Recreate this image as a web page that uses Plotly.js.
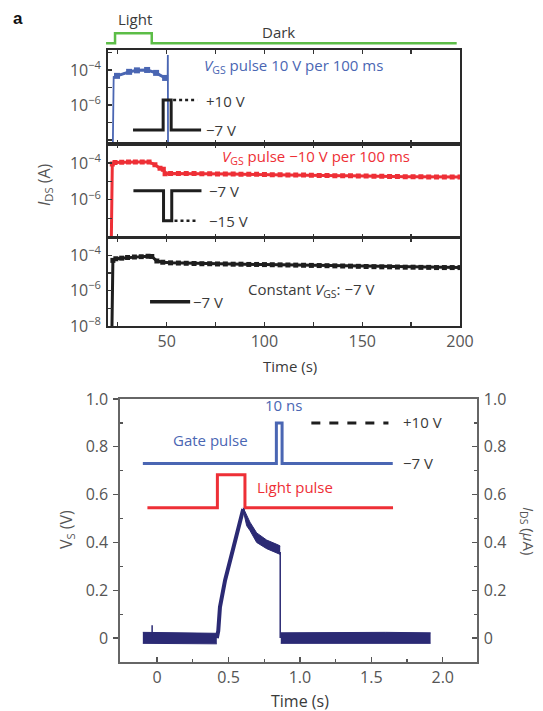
<!DOCTYPE html>
<html><head><meta charset="utf-8">
<script src="https://cdn.plot.ly/plotly-3.0.1.min.js"></script>
<style>html,body{margin:0;padding:0;background:#fff}#chart{width:543px;height:711px}</style>
</head><body><div id="chart"></div>
<script>
// ---------- data ----------
// Top: light/dark illumination schedule (time s, on=1/off=0)
const lightT = [19.0, 23.6, 23.6, 42.4, 42.4, 198.5];
const lightOn = [0, 0, 1, 1, 0, 0];

// Panel 1: VGS pulse +10 V (blue)
const blueT = [22.4, 22.9, 24.6, 30.8, 34.8, 40.0, 44.6, 49.2, 50.5, 50.6, 50.7];
const blueI = [1e-9, 4.0e-5, 4.6e-5, 7.8e-5, 9.5e-5, 1.0e-4, 6.8e-5, 3.5e-5, 3.4e-5, 7.2e-4, 1e-9];
const blueMarkT = [24.6, 30.8, 34.8, 40.0, 44.6, 49.2];
const blueMarkI = [4.6e-5, 7.8e-5, 9.5e-5, 1.0e-4, 6.8e-5, 3.5e-5];

// Panel 2: VGS pulse -10 V (red)
const redT = [21.6, 22.2, 23.6, 27, 30.5, 34, 37.5, 41, 44, 46.6, 48.3, 49.2,
  52, 56, 60, 64, 68, 72, 76, 80, 84, 88, 92, 96, 100, 104, 108, 112, 116, 120,
  124, 128, 132, 136, 140, 144, 148, 152, 156, 160, 164, 168, 172, 176, 180, 184, 188, 192, 196, 200];
const redI = [1e-9, 8.9e-5, 1.05e-4, 1.1e-4, 1.12e-4, 1.12e-4, 1.12e-4, 1.12e-4, 8.0e-5, 5.1e-5, 4.5e-5, 2.6e-5,
  2.7e-5, 2.7e-5, 2.65e-5, 2.65e-5, 2.6e-5, 2.6e-5, 2.55e-5, 2.5e-5, 2.5e-5, 2.45e-5, 2.4e-5, 2.4e-5, 2.35e-5, 2.3e-5, 2.3e-5, 2.25e-5, 2.2e-5, 2.2e-5,
  2.15e-5, 2.1e-5, 2.1e-5, 2.05e-5, 2.0e-5, 2.0e-5, 1.95e-5, 1.95e-5, 1.9e-5, 1.9e-5, 1.85e-5, 1.85e-5, 1.8e-5, 1.8e-5, 1.8e-5, 1.75e-5, 1.75e-5, 1.7e-5, 1.7e-5, 1.7e-5];

// Panel 3: constant VGS -7 V (black)
const blkT = [21.9, 22.5, 24, 27, 30, 33.5, 37, 40.5, 42.4, 45, 48,
  52, 56, 60, 64, 68, 72, 76, 80, 84, 88, 92, 96, 100, 104, 108, 112, 116, 120,
  124, 128, 132, 136, 140, 144, 148, 152, 156, 160, 164, 168, 172, 176, 180, 184, 188, 192, 196, 200];
const blkI = [1e-9, 5.1e-5, 6.3e-5, 6.8e-5, 7.4e-5, 7.9e-5, 8.3e-5, 8.7e-5, 8.5e-5, 4.7e-5, 4.0e-5,
  3.7e-5, 3.6e-5, 3.5e-5, 3.4e-5, 3.3e-5, 3.3e-5, 3.2e-5, 3.2e-5, 3.1e-5, 3.1e-5, 3.0e-5, 3.0e-5, 2.95e-5, 2.9e-5, 2.85e-5, 2.8e-5, 2.75e-5, 2.7e-5,
  2.65e-5, 2.6e-5, 2.55e-5, 2.5e-5, 2.45e-5, 2.4e-5, 2.35e-5, 2.3e-5, 2.25e-5, 2.2e-5, 2.2e-5, 2.15e-5, 2.1e-5, 2.1e-5, 2.05e-5, 2.05e-5, 2.0e-5, 2.0e-5, 2.0e-5, 2.0e-5];

// Inset gate-voltage schematics (drawn in each panel's coordinates)
const pulse1T = [32.8, 48.2, 48.2, 52.3, 52.3, 67.6];
const pulse1I = [3.7e-8, 3.7e-8, 1.9e-6, 1.9e-6, 3.7e-8, 3.7e-8];
const pulse1DotT = [53.3, 65.6];
const pulse1DotI = [1.9e-6, 1.9e-6];
const pulse2T = [33.0, 48.4, 48.4, 52.6, 52.6, 67.8];
const pulse2I = [3.1e-6, 3.1e-6, 7.2e-8, 7.2e-8, 3.1e-6, 3.1e-6];
const pulse2DotT = [54.0, 65.0];
const pulse2DotI = [7.2e-8, 7.2e-8];
const pulse3T = [41.5, 62.0];
const pulse3I = [2.35e-7, 2.35e-7];

// Top tick labels
const decadeVals12 = [1e-6, 1e-4];
const decadeText12 = ['10<sup>−6</sup>', '10<sup>−4</sup>'];
const decadeMinor12 = [1e-8, 1e-7, 1e-5, 1e-3];
const decadeVals3 = [1e-8, 1e-6, 1e-4];
const decadeText3 = ['10<sup>−8</sup>', '10<sup>−6</sup>', '10<sup>−4</sup>'];
const decadeMinor3 = [1e-7, 1e-5, 1e-3];
const timeTickVals = [50, 100, 150, 200];
const timeTickText = ['50', '100', '150', '200'];
const timeMinorVals = [25, 75, 125, 175];

// Bottom plot: gate pulse, light pulse, source voltage / current
const gateT = [-0.10, 0.835, 0.835, 0.875, 0.875, 1.65];
const gateV = [0.73, 0.73, 0.90, 0.90, 0.73, 0.73];
const lightPT = [-0.068, 0.422, 0.422, 0.615, 0.615, 1.652];
const lightPV = [0.545, 0.545, 0.683, 0.683, 0.545, 0.545];
const dashT = [1.08, 1.62];
const dashV = [0.90, 0.90];
const base1T = [-0.10, 0.10, 0.25, 0.418];
const base1Lo = [-0.022, -0.022, -0.025, -0.024];
const base1Hi = [0.024, 0.022, 0.020, 0.020];
const riseT = [0.418, 0.428, 0.44, 0.476, 0.535, 0.58, 0.603];
const riseV = [0.0, 0.03, 0.13, 0.242, 0.38, 0.48, 0.54];
const decayT = [0.603, 0.627, 0.65, 0.697, 0.767, 0.846, 0.862];
const decayLo = [0.535, 0.47, 0.45, 0.40, 0.374, 0.354, 0.35];
const decayHi = [0.545, 0.512, 0.485, 0.44, 0.41, 0.39, 0.385];
const dropT = [0.862, 0.862];
const dropV = [0.36, 0.0];
const base2T = [0.866, 1.2, 1.6, 1.915];
const base2Lo = [-0.022, -0.022, -0.022, -0.022];
const base2Hi = [0.022, 0.024, 0.024, 0.022];
const spikeT = [-0.035, -0.035];
const spikeV = [0.0, 0.054];
const vTickVals = [0, 0.2, 0.4, 0.6, 0.8, 1.0];
const vTickText = ['0', '0.2', '0.4', '0.6', '0.8', '1.0'];
const vMinorVals = [0.1, 0.3, 0.5, 0.7, 0.9];
const tTickVals = [0, 0.5, 1.0, 1.5, 2.0];
const tTickText = ['0', '0.5', '1.0', '1.5', '2.0'];
const tMinorVals = [0.25, 0.75, 1.25, 1.75];

// ---------- helpers (layout only) ----------
const W = 543, H = 711;
const px = x => x / W;
const py = y => 1 - y / H;

const FONT = 'Open Sans, Noto Sans, sans-serif';
const BLUE = '#4a66b3', RED = '#ee2f36', GREEN = '#5cbd47', NAVY = '#2b2a74', DARK = '#3a3a3a', TICK = '#555555';

const traces = [];
// green light schedule
traces.push({x: lightT, y: lightOn, xaxis: 'x4', yaxis: 'y4', mode: 'lines', line: {color: GREEN, width: 2.5}, hoverinfo: 'skip'});
// panel 1
traces.push({x: blueT, y: blueI, xaxis: 'x', yaxis: 'y', mode: 'lines', line: {color: BLUE, width: 1.8}});
traces.push({x: blueMarkT, y: blueMarkI, xaxis: 'x', yaxis: 'y', mode: 'lines+markers', line: {color: BLUE, width: 3}, marker: {symbol: 'square', size: 6, color: BLUE}});
traces.push({x: pulse1T, y: pulse1I, xaxis: 'x', yaxis: 'y', mode: 'lines', line: {color: '#1e1e1e', width: 3}});
traces.push({x: pulse1DotT, y: pulse1DotI, xaxis: 'x', yaxis: 'y', mode: 'lines', line: {color: '#1e1e1e', width: 2.5, dash: 'dot'}});
// panel 2
traces.push({x: redT, y: redI, xaxis: 'x2', yaxis: 'y2', mode: 'lines+markers', line: {color: RED, width: 3}, marker: {symbol: 'square', size: 5, color: RED}});
traces.push({x: pulse2T, y: pulse2I, xaxis: 'x2', yaxis: 'y2', mode: 'lines', line: {color: '#1e1e1e', width: 3}});
traces.push({x: pulse2DotT, y: pulse2DotI, xaxis: 'x2', yaxis: 'y2', mode: 'lines', line: {color: '#1e1e1e', width: 2.5, dash: 'dot'}});
// panel 3
traces.push({x: blkT, y: blkI, xaxis: 'x3', yaxis: 'y3', mode: 'lines+markers', line: {color: '#1e1e1e', width: 3}, marker: {symbol: 'square', size: 5, color: '#1e1e1e'}});
traces.push({x: pulse3T, y: pulse3I, xaxis: 'x3', yaxis: 'y3', mode: 'lines', line: {color: '#1e1e1e', width: 3.5}});
// bottom plot
traces.push({x: gateT, y: gateV, xaxis: 'x5', yaxis: 'y5', mode: 'lines', line: {color: BLUE, width: 3}});
traces.push({x: lightPT, y: lightPV, xaxis: 'x5', yaxis: 'y5', mode: 'lines', line: {color: RED, width: 3}});
traces.push({x: dashT, y: dashV, xaxis: 'x5', yaxis: 'y5', mode: 'lines', line: {color: '#1e1e1e', width: 3, dash: 'dash'}});
traces.push({x: base1T, y: base1Lo, xaxis: 'x5', yaxis: 'y5', mode: 'lines', line: {color: NAVY, width: 1}});
traces.push({x: base1T, y: base1Hi, xaxis: 'x5', yaxis: 'y5', mode: 'lines', line: {color: NAVY, width: 1}, fill: 'tonexty', fillcolor: NAVY});
traces.push({x: riseT, y: riseV, xaxis: 'x5', yaxis: 'y5', mode: 'lines', line: {color: NAVY, width: 4}});
traces.push({x: decayT, y: decayLo, xaxis: 'x5', yaxis: 'y5', mode: 'lines', line: {color: NAVY, width: 1}});
traces.push({x: decayT, y: decayHi, xaxis: 'x5', yaxis: 'y5', mode: 'lines', line: {color: NAVY, width: 1}, fill: 'tonexty', fillcolor: NAVY});
traces.push({x: dropT, y: dropV, xaxis: 'x5', yaxis: 'y5', mode: 'lines', line: {color: NAVY, width: 1.5}});
traces.push({x: base2T, y: base2Lo, xaxis: 'x5', yaxis: 'y5', mode: 'lines', line: {color: NAVY, width: 1}});
traces.push({x: base2T, y: base2Hi, xaxis: 'x5', yaxis: 'y5', mode: 'lines', line: {color: NAVY, width: 1}, fill: 'tonexty', fillcolor: NAVY});
traces.push({x: spikeT, y: spikeV, xaxis: 'x5', yaxis: 'y5', mode: 'lines', line: {color: NAVY, width: 1.5}});
// invisible trace to activate right axis
traces.push({x: [0], y: [0], xaxis: 'x5', yaxis: 'y6', mode: 'markers', marker: {opacity: 0}, hoverinfo: 'skip'});

const topX = (dom, showLabels) => ({
  domain: dom, range: [20, 200], tickmode: 'array', tickvals: timeTickVals, ticktext: timeTickText,
  ticks: 'inside', ticklen: 4, tickwidth: 1.3, tickcolor: '#333', mirror: 'ticks',
  minor: {tickmode: 'array', tickvals: timeMinorVals, ticks: 'inside', ticklen: 4, tickwidth: 1.3, tickcolor: '#333', showgrid: false},
  showline: true, linecolor: '#2a2a2a', linewidth: 1.8, showgrid: false, zeroline: false,
  showticklabels: showLabels, tickfont: {family: FONT, size: 16, color: TICK}
});
const topY = (dom, rng, vals, txt, minorVals, anchor) => ({
  domain: dom, type: 'log', range: rng, tickmode: 'array', tickvals: vals, ticktext: txt,
  ticks: 'inside', ticklen: 4, tickwidth: 1.3, tickcolor: '#333', mirror: true, anchor: anchor,
  minor: {tickmode: 'array', tickvals: minorVals, ticks: 'inside', ticklen: 4, tickwidth: 1.3, tickcolor: '#333', showgrid: false},
  showline: true, linecolor: '#2a2a2a', linewidth: 1.8, showgrid: false, zeroline: false,
  tickfont: {family: FONT, size: 16, color: TICK}, ticklabelstandoff: 2
});
const xdomTop = [px(108), px(460)];

const layout = {
  width: W, height: H, margin: {l: 0, r: 0, t: 0, b: 0},
  paper_bgcolor: '#fff', plot_bgcolor: 'rgba(0,0,0,0)', showlegend: false,
  font: {family: FONT, color: DARK},
  xaxis: Object.assign(topX(xdomTop, false), {anchor: 'y'}),
  yaxis: topY([py(144), py(50)], [-8.23, -2.86], decadeVals12, decadeText12, decadeMinor12, 'x'),
  xaxis2: Object.assign(topX(xdomTop, false), {anchor: 'y2'}),
  yaxis2: topY([py(237.5), py(144)], [-8.05, -2.97], decadeVals12, decadeText12, decadeMinor12, 'x2'),
  xaxis3: Object.assign(topX(xdomTop, true), {anchor: 'y3'}),
  yaxis3: topY([py(326), py(237.5)], [-8.0, -3.0], decadeVals3, decadeText3, decadeMinor3, 'x3'),
  xaxis4: {domain: [px(104), px(460)], range: [17.95, 200.2], visible: false, anchor: 'y4'},
  yaxis4: {domain: [py(47), py(29)], range: [-0.37, 1.43], visible: false, anchor: 'x4'},
  xaxis5: {
    domain: [px(120), px(477)], range: [-0.26, 2.24], anchor: 'y5',
    tickmode: 'array', tickvals: tTickVals, ticktext: tTickText,
    ticks: 'inside', ticklen: 5, tickwidth: 1.3, tickcolor: '#555',
    minor: {tickmode: 'array', tickvals: tMinorVals, ticks: 'inside', ticklen: 3, tickcolor: '#555', showgrid: false},
    showline: true, linecolor: '#666', linewidth: 1.6, mirror: true,
    showgrid: false, zeroline: false, tickfont: {family: FONT, size: 16, color: TICK}
  },
  yaxis5: {
    domain: [py(662), py(399)], range: [-0.1, 1.0], anchor: 'x5',
    tickmode: 'array', tickvals: vTickVals, ticktext: vTickText,
    ticks: 'outside', ticklen: 5, tickwidth: 1.3, tickcolor: '#555',
    minor: {tickmode: 'array', tickvals: vMinorVals, ticks: 'inside', ticklen: 3, tickcolor: '#555', showgrid: false},
    showline: true, linecolor: '#666', linewidth: 1.6,
    showgrid: false, zeroline: false, tickfont: {family: FONT, size: 16, color: TICK}, ticklabelstandoff: 2
  },
  yaxis6: {
    overlaying: 'y5', side: 'right', anchor: 'x5', range: [-0.1, 1.0],
    tickmode: 'array', tickvals: vTickVals, ticktext: vTickText,
    ticks: 'inside', ticklen: 5, tickwidth: 1.3, tickcolor: '#555',
    minor: {tickmode: 'array', tickvals: vMinorVals, ticks: 'inside', ticklen: 3, tickcolor: '#555', showgrid: false},
    showline: true, linecolor: '#666', linewidth: 1.6,
    showgrid: false, zeroline: false, tickfont: {family: FONT, size: 16, color: TICK}, ticklabelstandoff: 2
  },
  annotations: []
};

function ann(text, x, y, opts) {
  layout.annotations.push(Object.assign({
    text: text, xref: 'paper', yref: 'paper', x: px(x), y: py(y),
    xanchor: 'left', yanchor: 'middle', showarrow: false,
    font: {family: FONT, size: 15, color: DARK}
  }, opts || {}));
}
ann('<b>a</b>', 17.5, 18, {xanchor: 'center', font: {family: 'Liberation Sans, Arial, sans-serif', size: 17, color: '#111'}});
ann('Light', 134.5, 19, {xanchor: 'center', font: {family: FONT, size: 15, color: DARK}});
ann('Dark', 278.5, 32, {xanchor: 'center', font: {family: FONT, size: 15, color: DARK}});
ann('<i>V</i><sub>GS</sub> pulse 10 V per 100 ms', 202, 66, {font: {family: FONT, size: 15, color: BLUE}});
ann('+10 V', 204, 101);
ann('−7 V', 204, 130);
ann('<i>V</i><sub>GS</sub> pulse −10 V per 100 ms', 220, 157, {font: {family: FONT, size: 15, color: RED}});
ann('−7 V', 207, 191);
ann('−15 V', 207, 221);
ann('Constant <i>V</i><sub>GS</sub>: −7 V', 246, 290);
ann('−7 V', 191, 302);
ann('<i>I</i><sub>DS</sub> (A)', 44, 185, {xanchor: 'center', textangle: -90, font: {family: FONT, size: 16, color: TICK}});
ann('Time (s)', 290, 366, {xanchor: 'center', font: {family: FONT, size: 15, color: DARK}});
ann('10 ns', 283, 405, {xanchor: 'center', font: {family: FONT, size: 15, color: BLUE}});
ann('Gate pulse', 210, 440, {xanchor: 'center', font: {family: FONT, size: 15, color: BLUE}});
ann('+10 V', 401, 422);
ann('−7 V', 401, 463);
ann('Light pulse', 295, 487, {xanchor: 'center', font: {family: FONT, size: 15, color: RED}});
ann('V<sub>S</sub> (V)', 66, 530, {xanchor: 'center', textangle: -90, font: {family: FONT, size: 16, color: TICK}});
ann('<i>I</i><sub>DS</sub> (<i>μ</i>A)', 528, 531, {xanchor: 'center', textangle: 90, font: {family: FONT, size: 15, color: TICK}});
ann('Time (s)', 300, 701, {xanchor: 'center', font: {family: FONT, size: 16, color: DARK}});

Plotly.newPlot('chart', traces, layout, {staticPlot: true, displayModeBar: false});
</script>
</body></html>
